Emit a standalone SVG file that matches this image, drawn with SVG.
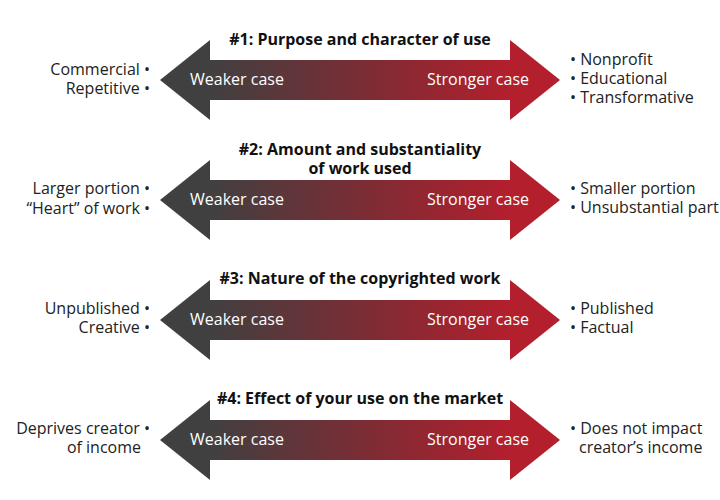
<svg xmlns="http://www.w3.org/2000/svg" width="720" height="500" viewBox="0 0 720 500">
<defs>
<linearGradient id="g" gradientUnits="userSpaceOnUse" x1="210" y1="0" x2="510" y2="0">
<stop offset="0" stop-color="#404040"/>
<stop offset="0.5" stop-color="#7a2d35"/>
<stop offset="1" stop-color="#b31f2c"/>
</linearGradient>
<path id="arr" d="M160,0 L210,-40 L210,-20 L510,-20 L510,-40 L560,0 L510,40 L510,20 L210,20 L210,40 Z"/>
</defs>
<style>
.a{fill:url(#g)}
.t{font-family:"Open Sans","DejaVu Sans",sans-serif;font-size:16px;font-weight:bold;fill:#111;text-anchor:middle}
.c{font-family:"Open Sans","DejaVu Sans",sans-serif;font-size:16px;fill:#fff}
.l{font-family:"Open Sans","DejaVu Sans",sans-serif;font-size:16px;fill:#222;text-anchor:end}
.r{font-family:"Open Sans","DejaVu Sans",sans-serif;font-size:16px;fill:#222}
</style>
<rect width="720" height="500" fill="#fff"/>
<g id="connectors">
<use href="#arr" class="a" y="80"/>
<use href="#arr" class="a" y="200"/>
<use href="#arr" class="a" y="320"/>
<use href="#arr" class="a" y="440"/>
</g>
<g id="factor1">
<text class="t" x="360" y="45">#1: Purpose and character of use</text>
<text class="c" x="190" y="85">Weaker case</text>
<text class="c" x="529" y="85" text-anchor="end">Stronger case</text>
<text class="l" x="150" y="75">Commercial •</text>
<text class="l" x="150" y="94">Repetitive •</text>
<text class="r" x="570" y="65">• Nonprofit</text>
<text class="r" x="570" y="84">• Educational</text>
<text class="r" x="570" y="103">• Transformative</text>
</g>
<g id="factor2">
<text class="t" x="360" y="155">#2: Amount and substantiality</text>
<text class="t" x="360" y="174">of work used</text>
<text class="c" x="190" y="205">Weaker case</text>
<text class="c" x="529" y="205" text-anchor="end">Stronger case</text>
<text class="l" x="150" y="194">Larger portion •</text>
<text class="l" x="150" y="214">“Heart” of work •</text>
<text class="r" x="570" y="194">• Smaller portion</text>
<text class="r" x="570" y="213">• Unsubstantial part</text>
</g>
<g id="factor3">
<text class="t" x="360" y="284">#3: Nature of the copyrighted work</text>
<text class="c" x="190" y="325">Weaker case</text>
<text class="c" x="529" y="325" text-anchor="end">Stronger case</text>
<text class="l" x="150" y="314">Unpublished •</text>
<text class="l" x="150" y="333">Creative •</text>
<text class="r" x="570" y="314">• Published</text>
<text class="r" x="570" y="333">• Factual</text>
</g>
<g id="factor4">
<text class="t" x="360" y="404">#4: Effect of your use on the market</text>
<text class="c" x="190" y="445">Weaker case</text>
<text class="c" x="529" y="445" text-anchor="end">Stronger case</text>
<text class="l" x="150" y="434">Deprives creator •</text>
<text class="l" x="141" y="453">of income</text>
<text class="r" x="570" y="434">• Does not impact</text>
<text class="r" x="579" y="453">creator’s income</text>
</g>
</svg>
